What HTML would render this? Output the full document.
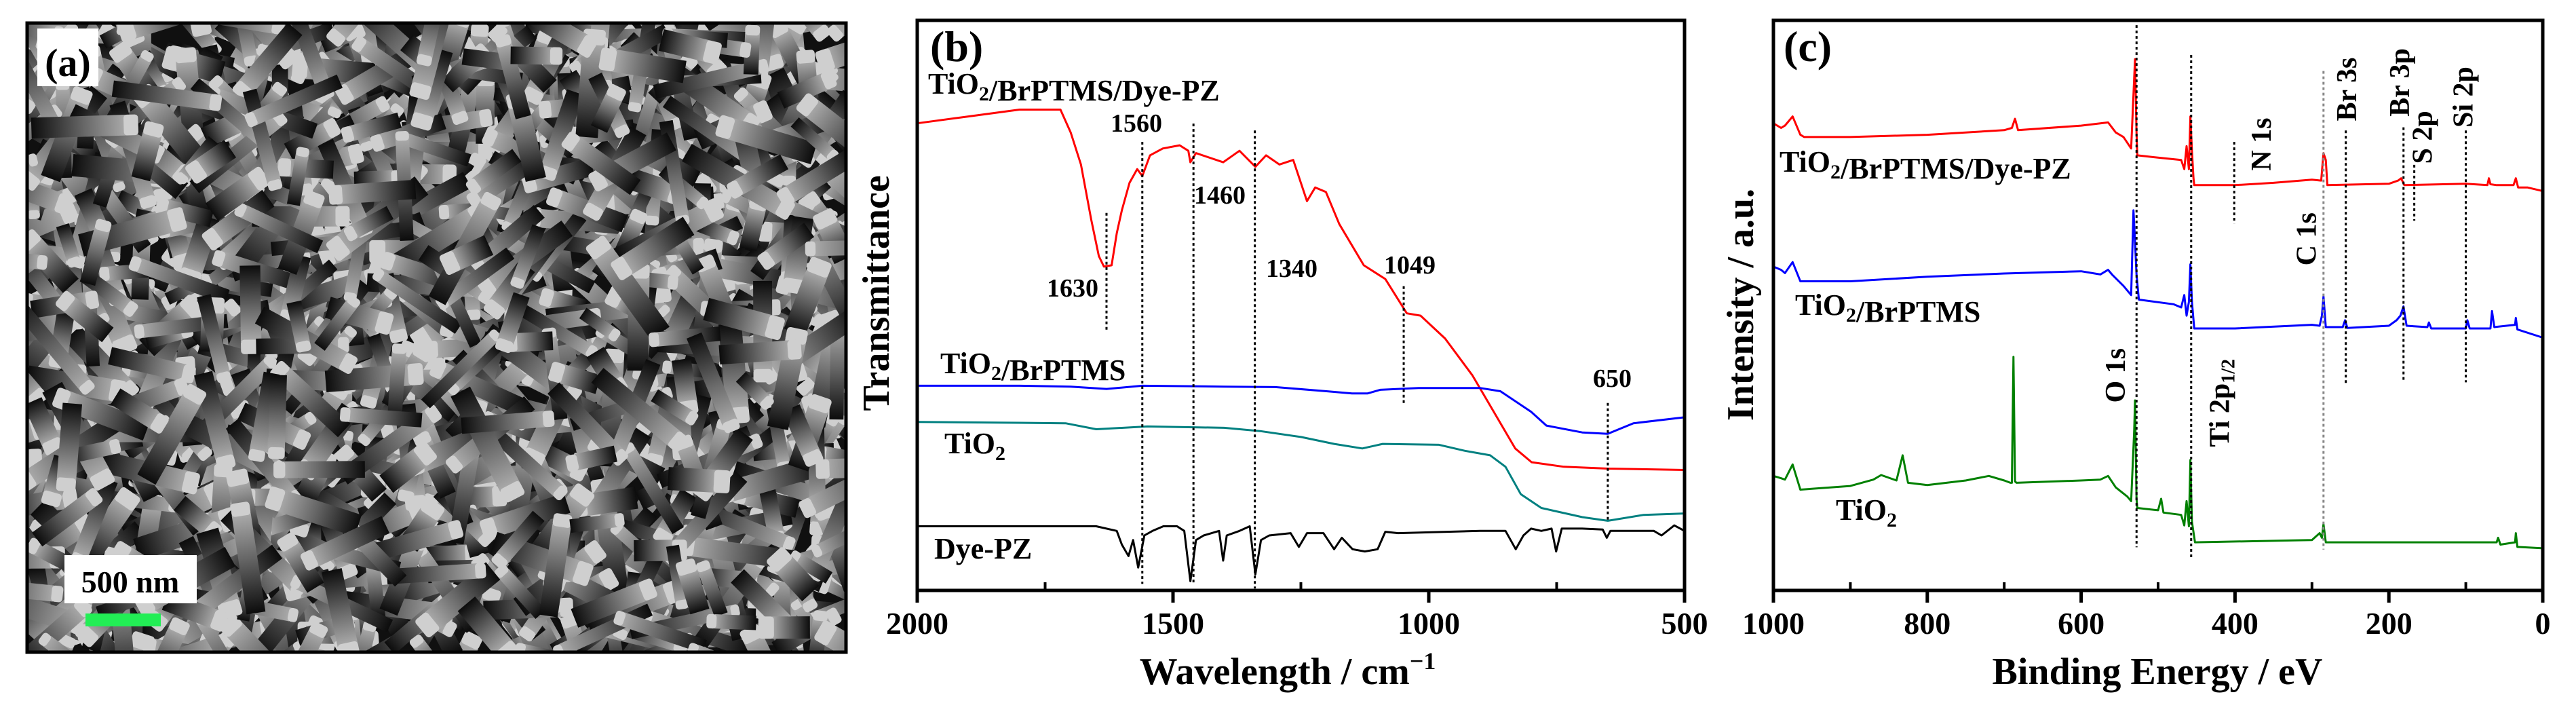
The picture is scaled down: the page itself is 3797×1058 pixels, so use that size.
<!DOCTYPE html>
<html><head><meta charset="utf-8">
<style>
html,body{margin:0;padding:0;background:#fff;overflow:hidden;width:3797px;height:1058px;}
svg{display:block;}
text{font-family:"Liberation Serif",serif;font-weight:bold;fill:#000;}
</style></head>
<body>
<svg id="fig" width="3797" height="1058" viewBox="0 0 3797 1058" xmlns="http://www.w3.org/2000/svg">
<defs>
<linearGradient id="rodg" x1="0" y1="0" x2="1" y2="0">
<stop offset="0" stop-color="#0c0c0c"/><stop offset="0.55" stop-color="#666"/><stop offset="1" stop-color="#aaa"/>
</linearGradient>
<clipPath id="semclip"><rect x="40" y="34" width="1207" height="927"/></clipPath>
</defs>
<g id="panel-a">
<rect x="40" y="34" width="1207" height="927" fill="#101010"/>
<g id="rods" clip-path="url(#semclip)"></g>
<rect x="40" y="34" width="1207" height="927" fill="none" stroke="#000" stroke-width="5"/>
<rect x="55" y="42" width="90" height="85" fill="#fff"/>
<text x="100" y="112" font-size="58" text-anchor="middle">(a)</text>
<rect x="95" y="818" width="195" height="71" fill="#fff"/>
<text x="192" y="873" font-size="46" text-anchor="middle">500 nm</text>
<rect x="126" y="904" width="111" height="19" fill="#22ee55"/>
</g>
<g id="panel-b"></g>
<g id="panel-c"></g>
</svg>
<script>
// ---------- FTIR data (panel b) ----------
const ftirRedX=[2000,1900,1800,1720,1700,1680,1660,1645,1635,1620,1610,1600,1585,1570,1560,1545,1520,1487,1470,1466,1455,1402,1370,1339,1318,1292,1265,1238,1222,1201,1175,1127,1085,1043,1016,968,915,873,831,799,736,650,500];
const ftirRedV=[102,103.5,105,105,100,93,81,73,70.7,71,78,83,89,92,90.5,95,96.5,97.2,96,93.5,95.5,93.5,96,92.5,95,93,94,85,88,87,80,71,68,60.5,60,55,47,39,31,28,27,26.6,26.3];
const ftirBlueX=[2000,1800,1700,1630,1560,1400,1300,1200,1150,1120,1095,1020,900,860,800,770,700,650,600,500];
const ftirBlueV=[44.7,44.7,44.5,44,44.7,44.5,44.4,43.5,43,43,43.8,44.2,44.2,43.5,39,36,34.5,34.2,36.5,37.8];
const ftirTealX=[2000,1800,1710,1650,1550,1400,1330,1250,1185,1130,1090,980,930,880,850,820,780,700,650,580,500];
const ftirTealV=[36.8,36.6,36.5,35.2,35.8,35.5,34.8,33.5,32,31,32,31.8,30.5,29.5,27,21,18,16,15.2,16.5,16.8];
const ftirDyeX=[2000,1650,1610,1600,1587,1578,1568,1556,1540,1519,1492,1478,1466,1455,1440,1410,1402,1395,1370,1350,1339,1328,1312,1270,1254,1238,1206,1185,1170,1149,1125,1100,1085,1060,900,850,830,815,800,780,760,751,740,700,660,652,645,560,545,520,500];
const ftirDyeV=[14,14,13,10,7.5,11,5,12,13,14,14,13,2,11,12,13,6.5,12,13,14,3.5,11,12,12.5,9.5,12.5,12.5,9,11.5,9,8.5,9,12.8,12.5,13,13,9,12,13.5,13,13.5,8.5,13.5,13.5,13.3,11.5,13,13,12,14.2,13];
const ftirTicks=[2000,1500,1000,500];
const ftirMinor=[1750,1250,750];
// ---------- XPS data (panel c) ----------
const xpsRedX=[1000,990,985,975,965,960,900,800,700,690,686,682,600,575,565,555,545,535,531,530,528,527,500,470,466,463,460,458,456,454,453,400,350,300,288,285,282,280,200,188,184,180,100,72,70,68,60,38,35,32,20,0];
const xpsRedV=[102,101,101.5,103.5,99.5,99,99,99.5,100.5,101,103,100.5,101.5,102,102.2,100,99,96.5,112,116,100,95,94.5,94,92,97,92,103.5,96,90,88.5,88.5,89,89.7,89.5,95.5,94,88.5,88.8,89.5,90,88.5,88.8,88.5,90,88.7,88.5,88.5,90,88,88,87.2];
const xpsBlueX=[1000,990,985,975,965,900,800,700,600,575,565,560,545,535,532,531,528,525,480,470,466,463,460,458,456,453,400,300,290,287,285,282,260,257,254,200,190,185,181,177,150,148,145,100,98,95,68,66,63,36,35,33,0];
const xpsBlueV=[70.7,70,69.3,71.7,67.5,67.5,68.5,69.2,69.7,69,70,69,66.5,64.5,83,80,69,63.5,62.5,61.8,64.5,60,63,71.2,63,57.2,57.2,58,57.8,60,64.2,57.5,57.5,59,57.3,57.8,59,60,62,57.8,57.5,58.5,57.2,57.2,59,57.2,57.2,61,57.5,58,59.5,57,55.2];
const xpsGreenX=[1000,990,985,975,965,900,870,860,840,832,825,800,750,720,700,692,690,688,686,684,600,575,565,555,540,535,531,530,528,527,500,496,493,470,466,463,460,458,456,452,300,290,287,285,282,60,58,55,36,35,33,0];
const xpsGreenV=[25,24.5,24.2,27.5,22,22.8,24.2,25.2,24,29.5,23.5,23,24,25,24,23.5,23.5,51,23.8,23.5,24,24.2,25,22.5,20.5,19.5,35,41.5,20,18,17.5,20,17,16.5,14.2,19.5,14,28.5,15,10.5,11,12.5,11.5,14.5,10.5,10.5,11.5,10,10.5,12.5,9.5,9.2];
const xpsTicks=[1000,800,600,400,200,0];
const xpsMinor=[900,700,500,300,100];
</script>
<script>
const NS="http://www.w3.org/2000/svg";
function mk(parent,tag,attrs){const e=document.createElementNS(NS,tag);for(const k in attrs)e.setAttribute(k,attrs[k]);parent.appendChild(e);return e;}
// ---- SEM texture (decorative, seeded) ----
(function(){
  const g=document.getElementById('rods');
  let s=12345;function r(){s=(s*16807)%2147483647;return s/2147483647;}
  for(let i=0;i<1700;i++){
    const cx=40+r()*1207, cy=34+r()*927, len=50+r()*110, w=18+r()*16, ang=r()*360;
    const grp=mk(g,'g',{transform:`translate(${cx.toFixed(1)},${cy.toFixed(1)}) rotate(${ang.toFixed(1)})`});
    
    
    mk(grp,'rect',{x:-len,y:-w/2,width:len,height:w,fill:'url(#rodg)'});
    mk(grp,'rect',{x:-3,y:-w/2,width:w*0.7,height:w,fill:'#cfcfcf',rx:5});
  }
})();
function axisPanel(gid,o){
  const g=document.getElementById(gid);
  const X=v=>o.x0+(o.d0-v)/(o.d0-o.d1)*(o.x1-o.x0);
  const Y=v=>870-v*6.748;
  o.series.forEach(sr=>{
    const p=sr.xs.map((x,i)=>(i?'L':'M')+X(x).toFixed(1)+','+Y(sr.vs[i]).toFixed(1)).join('');
    const el=mk(g,'path',{d:p,fill:'none',stroke:sr.c,'stroke-width':3,'stroke-linejoin':'round'});
    
    
  });
  mk(g,'rect',{x:o.x0,y:30,width:o.x1-o.x0,height:840,fill:'none',stroke:'#000','stroke-width':5});
  o.ticks.forEach(t=>{
    const tx=X(t);
    const tk=mk(g,'line',{x1:tx,x2:tx,y1:870,y2:888,stroke:'#000','stroke-width':5});
    
    
    const lb=mk(g,'text',{x:tx,y:934,'font-size':46,'text-anchor':'middle'});
    lb.textContent=t;
    
    
  });
  o.minor.forEach(t=>{
    const tx=X(t);
    const tk=mk(g,'line',{x1:tx,x2:tx,y1:870,y2:858,stroke:'#000','stroke-width':4});
    
    
  });
  return {X,g};
}
function txt(g,name,x,y,size,html,extra){
  const t=mk(g,'text',Object.assign({x:x,y:y,'font-size':size},extra||{}));
  t.innerHTML=html;
  
  
  return t;
}
function vdot(g,name,x,y1,y2,c){
  const l=mk(g,'line',{x1:x,x2:x,y1:y1,y2:y2,stroke:c||'#000','stroke-width':3,'stroke-dasharray':'4,4'});
  
  
}
const SUB2='<tspan font-size="30" dy="10">2</tspan><tspan dy="-10"></tspan>';
// ---- panel b ----
(function(){
  const {X,g}=axisPanel('panel-b',{x0:1352,x1:2483,d0:2000,d1:500,ticks:ftirTicks,minor:ftirMinor,series:[
    {xs:ftirRedX,vs:ftirRedV,c:'#ff0000',name:'ftir-tio2-brptms-dyepz'},
    {xs:ftirBlueX,vs:ftirBlueV,c:'#0000ff',name:'ftir-tio2-brptms'},
    {xs:ftirTealX,vs:ftirTealV,c:'#008080',name:'ftir-tio2'},
    {xs:ftirDyeX,vs:ftirDyeV,c:'#000000',name:'ftir-dyepz'}]});
  const yy=Y=>Y/1.482;
  vdot(g,'marker-1630',X(1630),yy(465),yy(720));
  vdot(g,'marker-1560',X(1560),yy(310),yy(1275));
  vdot(g,'marker-1460',X(1460),yy(270),yy(1275));
  vdot(g,'marker-1340',X(1340),yy(285),yy(1285));
  vdot(g,'marker-1049',X(1049),yy(625),yy(880));
  vdot(g,'marker-650',X(650),yy(880),yy(1140));
  txt(g,'panel-b-label',1371,90,64,'(b)');
  txt(g,'label-tio2-brptms-dyepz',1368,138,44,'TiO'+SUB2+'/BrPTMS/Dye-PZ');
  txt(g,'label-tio2-brptms',1386,550,44,'TiO'+SUB2+'/BrPTMS');
  txt(g,'label-tio2',1392,668,44,'TiO'+SUB2);
  txt(g,'label-dyepz',1377,823,44,'Dye-PZ');
  txt(g,'peak-1560',1637,194,38,'1560');
  txt(g,'peak-1460',1760,300,38,'1460');
  txt(g,'peak-1630',1543,437,38,'1630');
  txt(g,'peak-1340',1866,408,38,'1340');
  txt(g,'peak-1049',2040,403,38,'1049');
  txt(g,'peak-650',2348,570,38,'650');
  txt(g,'x-axis-title-b',1898,1008,56,'Wavelength / cm<tspan font-size="36" dy="-22">−1</tspan>',{'text-anchor':'middle'});
  txt(g,'y-axis-title-b',0,0,56,'Transmittance',{'text-anchor':'middle',transform:'translate(1310,432) rotate(-90)'});
})();
// ---- panel c ----
(function(){
  const {X,g}=axisPanel('panel-c',{x0:2614,x1:3748,d0:1000,d1:0,ticks:xpsTicks,minor:xpsMinor,series:[
    {xs:xpsRedX,vs:xpsRedV,c:'#ff0000',name:'xps-tio2-brptms-dyepz'},
    {xs:xpsBlueX,vs:xpsBlueV,c:'#0000ff',name:'xps-tio2-brptms'},
    {xs:xpsGreenX,vs:xpsGreenV,c:'#008000',name:'xps-tio2'}]});
  const yy=Y=>Y/1.482;
  vdot(g,'line-o1s',X(528),yy(55),yy(1195));
  vdot(g,'line-ti2p',X(457),yy(120),yy(1220));
  vdot(g,'line-n1s',X(401),yy(310),yy(488));
  vdot(g,'line-c1s',X(285),yy(155),yy(1200),'#888');
  vdot(g,'line-br3s',X(256),yy(285),yy(840));
  vdot(g,'line-br3p',X(181),yy(278),yy(832));
  vdot(g,'line-s2p',X(167),yy(360),yy(482));
  vdot(g,'line-si2p',X(100),yy(285),yy(835));
  txt(g,'panel-c-label',2629,90,64,'(c)');
  txt(g,'label-tio2-brptms-dyepz-c',2623,253,44,'TiO'+SUB2+'/BrPTMS/Dye-PZ');
  txt(g,'label-tio2-brptms-c',2646,464,44,'TiO'+SUB2+'/BrPTMS');
  txt(g,'label-tio2-c',2706,766,44,'TiO'+SUB2);
  const rot=(name,s,cx,cy)=>txt(g,name,0,0,42,s,{'text-anchor':'middle',transform:`translate(${cx},${cy}) rotate(-90)`});
  rot('label-o1s','O 1s',2550+712/1.254+14,820/1.482);
  rot('label-ti2p','Ti 2p<tspan font-size="28" dy="8">1/2</tspan>',2550+905/1.254+14,880/1.482);
  rot('label-n1s','N 1s',2550+982/1.254+14,315/1.482);
  rot('label-c1s','C 1s',2550+1065/1.254+14,522/1.482);
  rot('label-br3s','Br 3s',2550+1140/1.254+14,195/1.482);
  rot('label-br3p','Br 3p',2550+1238/1.254+14,180/1.482);
  rot('label-s2p','S 2p',2550+1280/1.254+14,300/1.482);
  rot('label-si2p','Si 2p',2550+1355/1.254+14,212/1.482);
  txt(g,'x-axis-title-c',3180,1008,56,'Binding Energy / eV',{'text-anchor':'middle'});
  txt(g,'y-axis-title-c',0,0,56,'Intensity / a.u.',{'text-anchor':'middle',transform:'translate(2584,449) rotate(-90)'});
})();
</script>
</body></html>
